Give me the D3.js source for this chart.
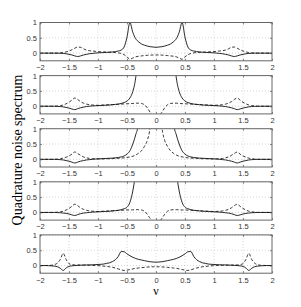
<!DOCTYPE html>
<html>
<head>
<meta charset="utf-8">
<script src="https://cdn.jsdelivr.net/npm/d3@7"></script>
<style>
  body { margin: 0; background: #fff; }
  svg { display: block; }
</style>
</head>
<body>
<div id="chart"></div>
<script>
// frequency grid (nu), read at 0.05 steps
var nu = d3.range(81).map(function (i) { return +(-2 + i * 0.05).toFixed(2); });

var xTicks = [-2, -1.5, -1, -0.5, 0, 0.5, 1, 1.5, 2];
var yTicks = [0, 0.5, 1];

// panel 1
var solid1 = [0,0,0,0,0,0,0,-0.005,-0.01,-0.02,-0.04,-0.06,-0.09,-0.11,-0.09,-0.06,-0.04,-0.02,-0.01,0,0.01,0.015,0.02,0.025,0.03,0.04,0.05,0.07,0.1,0.2,0.52,1.0,0.68,0.47,0.37,0.3,0.26,0.23,0.21,0.2,0.19,
  0.2,0.21,0.23,0.26,0.3,0.37,0.47,0.68,1.0,0.52,0.2,0.1,0.07,0.05,0.04,0.03,0.025,0.02,0.015,0.01,0,-0.01,-0.02,-0.04,-0.06,-0.09,-0.11,-0.09,-0.06,-0.04,-0.02,-0.01,-0.005,0,0,0,0,0,0,0];
var dashed1 = [0,0,0,0,0,0,0,0.01,0.02,0.04,0.07,0.11,0.16,0.2,0.19,0.14,0.1,0.08,0.07,0.06,0.05,0.045,0.04,0.035,0.03,0.025,0.02,0.01,-0.01,-0.05,-0.12,-0.2,-0.16,-0.12,-0.1,-0.09,-0.08,-0.07,-0.065,-0.06,-0.06,
  -0.06,-0.065,-0.07,-0.08,-0.09,-0.1,-0.12,-0.16,-0.2,-0.12,-0.05,-0.01,0.01,0.02,0.025,0.03,0.035,0.04,0.045,0.05,0.06,0.07,0.08,0.1,0.14,0.19,0.2,0.16,0.11,0.07,0.04,0.02,0.01,0,0,0,0,0,0,0];

// panel 2
var solid2 = [0,0,0,0,0,0,-0.005,-0.01,-0.02,-0.04,-0.06,-0.09,-0.11,-0.08,-0.05,-0.03,-0.01,0,0.01,0.015,0.02,0.025,0.03,0.035,0.04,0.05,0.06,0.07,0.09,0.12,0.17,0.27,0.48,0.93,1.9,3,3,3,3,3,3,
  3,3,3,3,3,1.9,0.93,0.48,0.27,0.17,0.12,0.09,0.07,0.06,0.05,0.04,0.035,0.03,0.025,0.02,0.015,0.01,0,-0.01,-0.03,-0.05,-0.08,-0.11,-0.09,-0.06,-0.04,-0.02,-0.01,-0.005,0,0,0,0,0,0];
var dashed2 = [0,0,0,0,0,0,0.01,0.02,0.04,0.08,0.13,0.2,0.27,0.22,0.15,0.1,0.07,0.05,0.04,0.035,0.03,0.035,0.04,0.045,0.05,0.055,0.06,0.065,0.07,0.075,0.08,0.085,0.09,0.1,0.1,0.09,0.05,-0.05,-0.2,-0.3,-0.32,
  -0.3,-0.2,-0.05,0.05,0.09,0.1,0.1,0.09,0.085,0.08,0.075,0.07,0.065,0.06,0.055,0.05,0.045,0.04,0.035,0.03,0.035,0.04,0.05,0.07,0.1,0.15,0.22,0.27,0.2,0.13,0.08,0.04,0.02,0.01,0,0,0,0,0,0];

// panel 3
var solid3 = [0,0,0,0,0,0,-0.005,-0.01,-0.02,-0.04,-0.06,-0.09,-0.12,-0.09,-0.06,-0.04,-0.02,-0.01,0,0.01,0.015,0.02,0.025,0.03,0.035,0.04,0.05,0.06,0.08,0.11,0.17,0.28,0.5,0.8,1.2,3,3,3,3,3,3,
  3,3,3,3,3,1.2,0.8,0.5,0.28,0.17,0.11,0.08,0.06,0.05,0.04,0.035,0.03,0.025,0.02,0.015,0.01,0,-0.01,-0.02,-0.04,-0.06,-0.09,-0.12,-0.09,-0.06,-0.04,-0.02,-0.01,-0.005,0,0,0,0,0,0];
var dashed3 = [0,0,0,0,0,0,0.01,0.02,0.04,0.07,0.11,0.17,0.24,0.19,0.13,0.08,0.05,0.03,0.02,0.015,0.015,0.015,0.015,0.02,0.02,0.025,0.03,0.035,0.04,0.05,0.06,0.08,0.1,0.14,0.2,0.28,0.42,0.62,1.1,3,3,
  3,1.1,0.62,0.42,0.28,0.2,0.14,0.1,0.08,0.06,0.05,0.04,0.035,0.03,0.025,0.02,0.02,0.015,0.015,0.015,0.015,0.02,0.03,0.05,0.08,0.13,0.19,0.24,0.17,0.11,0.07,0.04,0.02,0.01,0,0,0,0,0,0];

// panel 4
var solid4 = [0,0,0,0,0,0,-0.005,-0.01,-0.02,-0.03,-0.05,-0.08,-0.1,-0.07,-0.04,-0.02,-0.01,0,0.01,0.015,0.02,0.025,0.03,0.035,0.04,0.05,0.06,0.07,0.09,0.12,0.17,0.33,0.7,1.4,3,3,3,3,3,3,3,
  3,3,3,3,3,3,1.4,0.7,0.33,0.17,0.12,0.09,0.07,0.06,0.05,0.04,0.035,0.03,0.025,0.02,0.015,0.01,0,-0.01,-0.02,-0.04,-0.07,-0.1,-0.08,-0.05,-0.03,-0.02,-0.01,-0.005,0,0,0,0,0,0];
var dashed4 = [0,0,0,0,0,0,0.01,0.02,0.04,0.08,0.13,0.2,0.27,0.22,0.15,0.1,0.07,0.05,0.04,0.035,0.03,0.035,0.04,0.045,0.05,0.055,0.06,0.065,0.07,0.075,0.08,0.08,0.085,0.09,0.09,0.08,0.04,-0.06,-0.2,-0.3,-0.32,
  -0.3,-0.2,-0.06,0.04,0.08,0.09,0.09,0.085,0.08,0.08,0.075,0.07,0.065,0.06,0.055,0.05,0.045,0.04,0.035,0.03,0.035,0.04,0.05,0.07,0.1,0.15,0.22,0.27,0.2,0.13,0.08,0.04,0.02,0.01,0,0,0,0,0,0];

// panel 5
var solid5 = [0,0,0,-0.005,-0.01,-0.02,-0.04,-0.09,-0.16,-0.08,-0.03,-0.01,0,0.005,0.01,0.015,0.02,0.02,0.025,0.03,0.035,0.04,0.05,0.07,0.09,0.13,0.19,0.3,0.46,0.45,0.38,0.32,0.27,0.23,0.2,0.18,0.16,0.14,0.125,0.115,0.11,
  0.115,0.125,0.14,0.16,0.18,0.2,0.23,0.27,0.32,0.38,0.45,0.46,0.3,0.19,0.13,0.09,0.07,0.05,0.04,0.035,0.03,0.025,0.02,0.02,0.015,0.01,0.005,0,-0.01,-0.03,-0.08,-0.16,-0.09,-0.04,-0.02,-0.01,-0.005,0,0,0];
var dashed5 = [0,0,0,0.005,0.01,0.03,0.08,0.2,0.4,0.2,0.06,0.03,0.02,0.02,0.015,0.015,0.01,0.01,0.005,0,-0.005,-0.01,-0.02,-0.03,-0.04,-0.06,-0.08,-0.11,-0.14,-0.16,-0.15,-0.13,-0.11,-0.09,-0.08,-0.07,-0.06,-0.05,-0.045,-0.04,-0.04,
  -0.04,-0.045,-0.05,-0.06,-0.07,-0.08,-0.09,-0.11,-0.13,-0.15,-0.16,-0.14,-0.11,-0.08,-0.06,-0.04,-0.03,-0.02,-0.01,-0.005,0,0.005,0.01,0.01,0.015,0.015,0.02,0.02,0.03,0.06,0.2,0.4,0.2,0.08,0.03,0.01,0.005,0,0,0];

var solids = [solid1, solid2, solid3, solid4, solid5];
var dasheds = [dashed1, dashed2, dashed3, dashed4, dashed5];

var width = 301, height = 307;
var margin = { left: 40, right: 29 };
var panelTop = 22.5, panelStep = 53.1, panelH = 38.3;

var svg = d3.select("#chart").append("svg")
  .attr("width", width)
  .attr("height", height);

var x = d3.scaleLinear().domain([-2, 2]).range([margin.left, width - margin.right]);
var fmt = d => d3.format("")(d).replace("-", "\u2212");

solids.forEach(function (solid, i) {
  var top = panelTop + i * panelStep;
  var y = d3.scaleLinear().domain([-0.25, 1]).range([top + panelH, top]);
  var g = svg.append("g").attr("class", "panel");

  svg.append("clipPath").attr("id", "clip" + i)
    .append("rect")
    .attr("x", x(-2)).attr("y", top)
    .attr("width", x(2) - x(-2)).attr("height", panelH);

  // dotted grid
  g.append("g").selectAll("line").data(xTicks.slice(1, -1)).join("line")
    .attr("x1", d => x(d)).attr("x2", d => x(d))
    .attr("y1", top).attr("y2", top + panelH)
    .attr("stroke", "#bbb").attr("stroke-width", 0.6).attr("stroke-dasharray", "1,2");
  g.append("g").selectAll("line").data(yTicks).join("line")
    .attr("x1", x(-2)).attr("x2", x(2))
    .attr("y1", d => y(d)).attr("y2", d => y(d))
    .attr("stroke", "#bbb").attr("stroke-width", 0.6).attr("stroke-dasharray", "1,2");

  var line = d3.line()
    .x((d, j) => x(nu[j]))
    .y(d => y(d))
    .curve(d3.curveMonotoneX);

  g.append("path")
    .datum(dasheds[i])
    .attr("clip-path", "url(#clip" + i + ")")
    .attr("fill", "none")
    .attr("stroke", "#222")
    .attr("stroke-width", 0.9)
    .attr("stroke-dasharray", "3,2")
    .attr("d", line);

  g.append("path")
    .datum(solid)
    .attr("clip-path", "url(#clip" + i + ")")
    .attr("fill", "none")
    .attr("stroke", "#111")
    .attr("stroke-width", 0.9)
    .attr("d", line);

  // axes, ticks pointing inward
  g.append("g")
    .attr("transform", `translate(0, ${top + panelH})`)
    .call(d3.axisBottom(x).tickValues(xTicks).tickSize(-2).tickPadding(4).tickFormat(fmt))
    .call(a => a.select(".domain").remove());
  g.append("g")
    .attr("transform", `translate(0, ${top})`)
    .call(d3.axisTop(x).tickValues(xTicks).tickSize(-2).tickFormat(""))
    .call(a => a.select(".domain").remove());
  g.append("g")
    .attr("transform", `translate(${x(-2)}, 0)`)
    .call(d3.axisLeft(y).tickValues(yTicks).tickSize(-2).tickPadding(3).tickFormat(fmt))
    .call(a => a.select(".domain").remove());
  g.append("g")
    .attr("transform", `translate(${x(2)}, 0)`)
    .call(d3.axisRight(y).tickValues(yTicks).tickSize(-2).tickFormat(""))
    .call(a => a.select(".domain").remove());

  g.selectAll(".tick line").attr("stroke", "#555").attr("stroke-width", 0.7);
  g.selectAll(".tick text")
    .attr("fill", "#333")
    .style("font-family", "'Liberation Sans', Arial, sans-serif")
    .style("font-size", "7.5px");

  g.append("rect")
    .attr("x", x(-2)).attr("y", top)
    .attr("width", x(2) - x(-2)).attr("height", panelH)
    .attr("fill", "none")
    .attr("stroke", "#666")
    .attr("stroke-width", 1);
});

svg.append("text")
  .attr("transform", "translate(22, 150) rotate(-90)")
  .attr("text-anchor", "middle")
  .style("font-family", "'Liberation Serif', 'Times New Roman', serif")
  .style("font-size", "14px")
  .text("Quadrature noise spectrum");

svg.append("text")
  .attr("x", x(0))
  .attr("y", 295)
  .attr("text-anchor", "middle")
  .style("font-family", "'Liberation Serif', 'Times New Roman', serif")
  .style("font-size", "12px")
  .text("\u03bd");
</script>
</body>
</html>
